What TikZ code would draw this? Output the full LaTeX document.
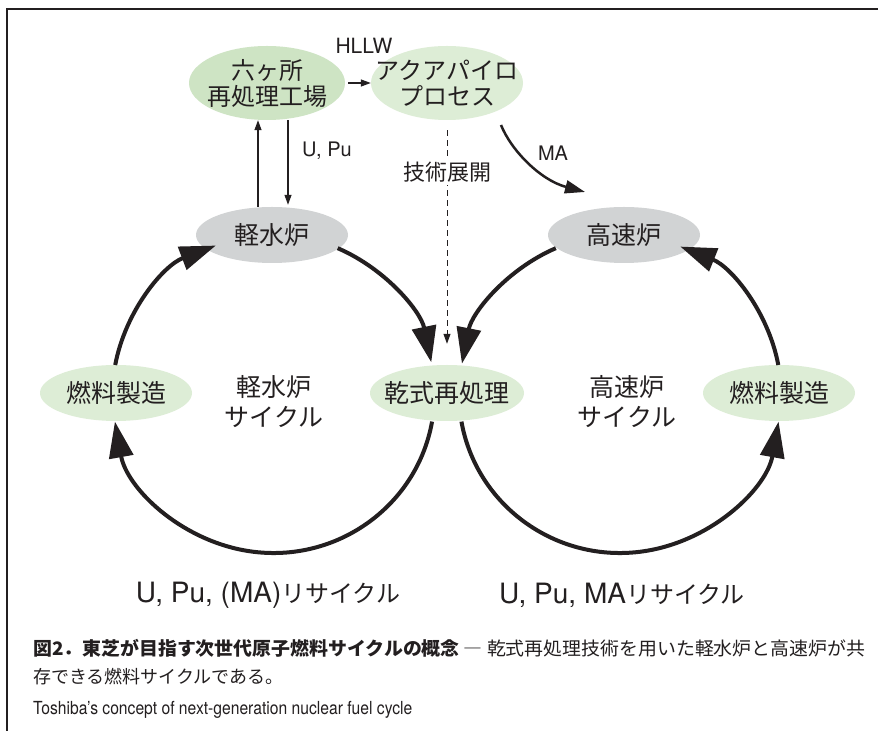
\documentclass[tikz,border=0pt]{standalone}
\usepackage{fontspec}
\setmainfont{TeX Gyre Heros}
\newfontfamily\jp{Noto Sans CJK JP}
\usetikzlibrary{shapes.geometric,arrows.meta,calc}
\definecolor{ink}{RGB}{35,31,32}
\definecolor{gA}{RGB}{206,228,196}
\definecolor{gB}{RGB}{221,237,214}
\definecolor{gr}{RGB}{209,211,212}
\begin{document}
\begin{tikzpicture}[x=1pt,y=1pt,
  jpn/.style={font=\jp\fontsize{24}{26}\selectfont, text=ink, inner sep=0pt},
  jpb/.style={font=\jp\fontsize{25}{30}\selectfont, text=ink, inner sep=0pt},
  lat/.style={font=\fontsize{20}{24}\selectfont, text=ink, inner sep=0pt},
  bub/.style={ellipse, inner sep=0pt, minimum width=152pt, minimum height=56pt},
  cyc/.style={draw=ink, line width=4pt, -{Triangle[length=36pt,width=24pt]}},
  thinarr/.style={draw=ink, line width=1.2pt, -{Triangle[length=10pt,width=7pt]}}]
\useasboundingbox (0,0) rectangle (878,731);
\fill[white] (0,0) rectangle (878,731);
% frame
\draw[ink, line width=1.2pt] (878,722) -- (7,722) -- (7,0);
% nodes
\node[bub, fill=gA, minimum width=156pt, minimum height=74pt,
  label={[jpn,align=center]center:六ヶ所\\再処理工場}] (RK) at (267,648) {};
\node[bub, fill=gB, minimum width=152pt, minimum height=74pt,
  label={[jpn,align=center]center:アクアパイロ\\プロセス}] (AQ) at (447,648) {};
\node[bub, fill=gr, label={[jpb]center:軽水炉}] (LWR) at (272,496) {};
\node[bub, fill=gr, label={[jpb]center:高速炉}] (FBR) at (624,496) {};
\node[bub, fill=gB, label={[jpb]center:燃料製造}] (FF1) at (116,338) {};
\node[bub, fill=gB, minimum width=154pt, label={[jpb]center:乾式再処理}] (DRY) at (447,338) {};
\node[bub, fill=gB, label={[jpb]center:燃料製造}] (FF2) at (779,338) {};
\node[jpb, align=center] (LC) at (274,329) {軽水炉\\サイクル};
\node[jpb, align=center] (RC) at (627,329) {高速炉\\サイクル};
\node[lat, font=\fontsize{21}{24}\selectfont] (HL) at (364,685) {HLLW};
\node[lat] (UP) at (327,580) {U, Pu};
\node[lat] (MAL) at (553,578) {MA};
% cycles
\coordinate (C1) at (273.5,337);
\coordinate (C2) at (620,337);
\draw[cyc] (C1) ++(169.5:161 and 159) arc[start angle=169.5,end angle=111,x radius=161,y radius=159];
\draw[cyc] (C1) ++(66.5:161 and 159) arc[start angle=66.5,end angle=11.5,x radius=161,y radius=159];
\draw[cyc] (C1) ++(350:161 and 159) arc[start angle=350,end angle=190,x radius=161,y radius=159];
\draw[cyc] (C2) ++(190:161 and 159) arc[start angle=190,end angle=350,x radius=161,y radius=159];
\draw[cyc] (C2) ++(10.5:161 and 159) arc[start angle=10.5,end angle=68,x radius=161,y radius=159];
\draw[cyc] (C2) ++(113.5:161 and 159) arc[start angle=113.5,end angle=169,x radius=161,y radius=159];
% thin arrows
\coordinate (xu) at (258,0);
\coordinate (xd) at (288,0);
\draw[thinarr] (LWR.north -| xu) -- (RK.south -| xu);
\draw[thinarr, shorten >=2pt] (RK.south -| xd) -- (LWR.north -| xd);
\draw[thinarr, shorten <=3pt] (RK.east) -- (AQ.west);
\draw[ink, line width=1pt, dash pattern=on 6pt off 4pt, -{Triangle[length=10pt,width=7pt]},
  shorten <=10pt, shorten >=21pt] (AQ.south) -- (DRY.north);
\node[jpn, font=\jp\fontsize{22}{24}\selectfont, fill=white, inner sep=3pt] (TK) at (447,559) {技術展開};
% MA curve
\coordinate (maS) at (501,606);
\coordinate (maE) at (585,539);
\draw[ink, line width=2.5pt, -{Triangle[length=20pt,width=13pt]}] (maS) .. controls (511,581) and (540,551) .. (maE);
% bottom labels
\node[text=ink, inner sep=0pt] (B1) at (268,136) {\fontsize{28}{30}\selectfont U, Pu, (MA)\jp\fontsize{24}{30}\selectfont リサイクル};
\node[text=ink, inner sep=0pt] (B2) at (622,136) {\fontsize{28}{30}\selectfont U, Pu, MA\jp\fontsize{24}{30}\selectfont リサイクル};
% caption
\node[anchor=west, text=ink, inner sep=0pt] (CAP1) at (33,83) {\scalebox{1.022}[1]{\jp\fontsize{18.5}{20}\selectfont{\bfseries 図2．東芝が目指す次世代原子燃料サイクルの概念} ― 乾式再処理技術を用いた軽水炉と高速炉が共}};
\node[anchor=west, text=ink, inner sep=0pt] (CAP2) at (33,54) {\jp\fontsize{18}{20}\selectfont 存できる燃料サイクルである。};
\node[anchor=west, text=ink, inner sep=0pt] (CAP3) at (33,21) {\scalebox{0.87}[1]{\fontsize{18}{20}\selectfont Toshiba’s concept of next-generation nuclear fuel cycle}};
\end{tikzpicture}
\end{document}
